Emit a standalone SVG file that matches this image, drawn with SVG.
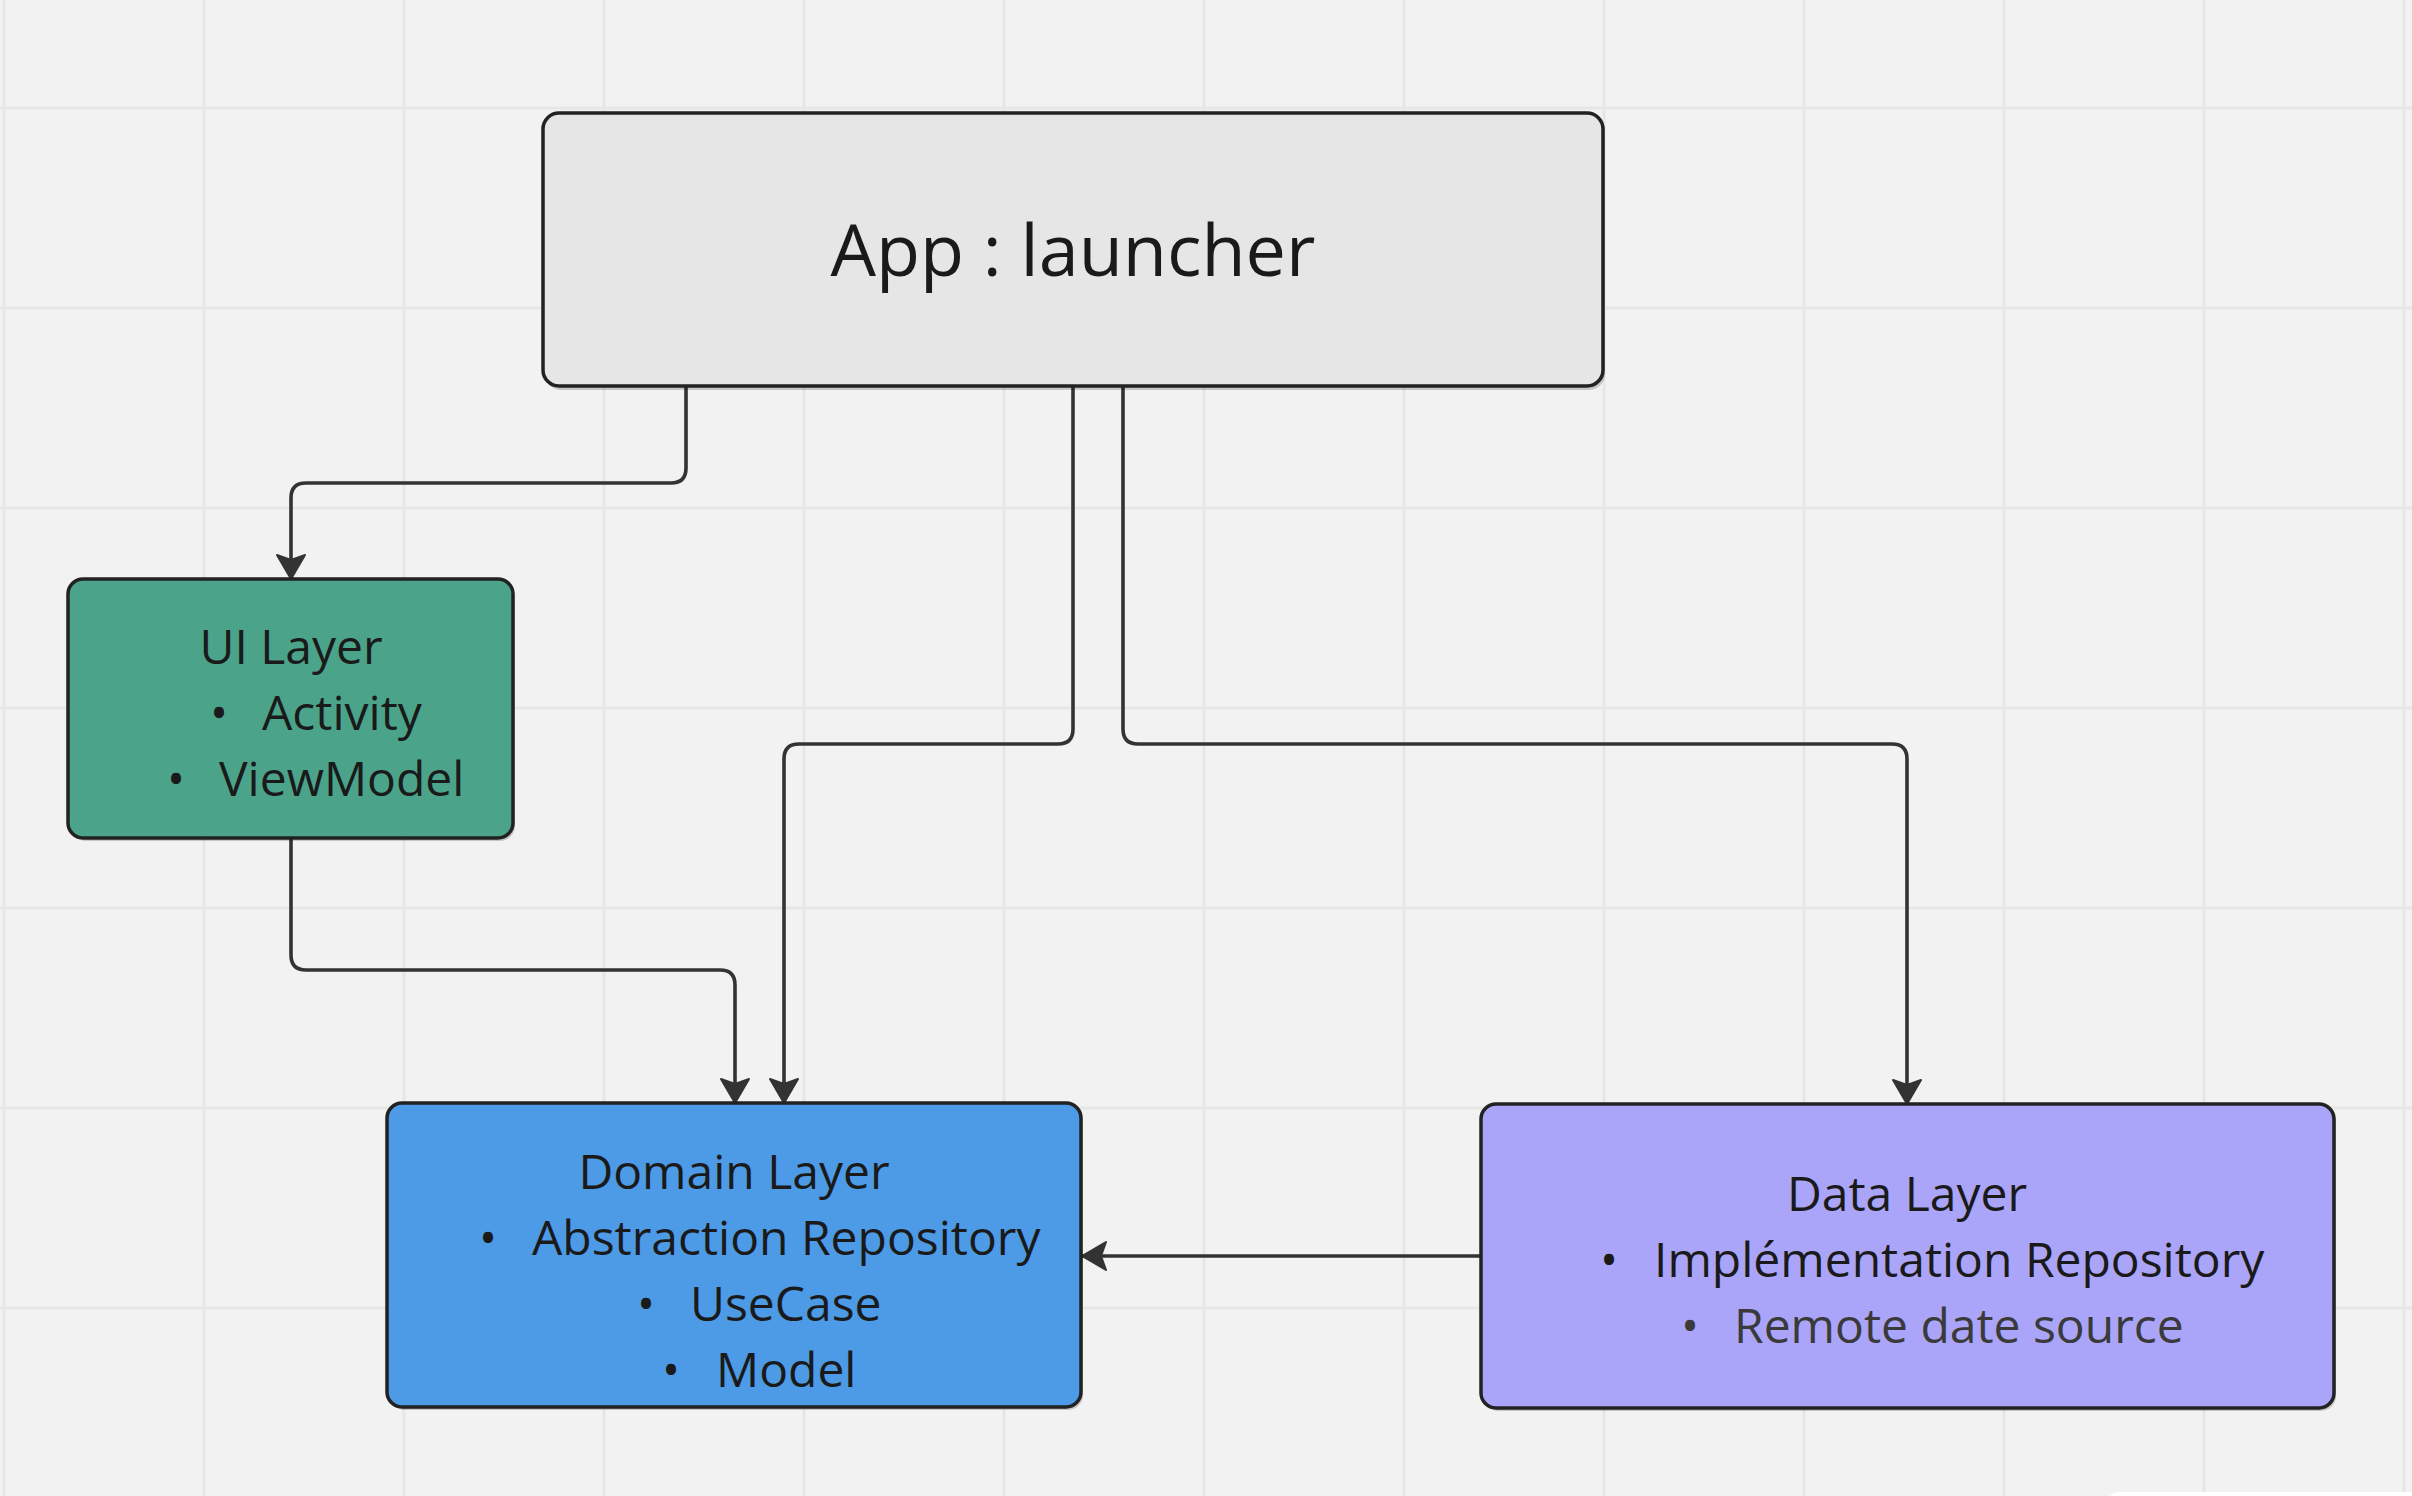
<svg xmlns="http://www.w3.org/2000/svg" width="2412" height="1496" viewBox="0 0 2412 1496">
<defs>
<style>
.grid line{stroke:#e6e6e6;stroke-width:3}
.box{stroke:#222;stroke-width:3.5}
.shadow{fill:#000;opacity:0.18}
.conn path{fill:none;stroke:#333;stroke-width:3.6;stroke-linejoin:round}
text{font-family:"Open Sans","Noto Sans","Liberation Sans",sans-serif;fill:#1a1a1a}
.t{font-size:48px}
.title{text-anchor:middle}
.dot{text-anchor:middle}
</style>
<marker id="arr" markerUnits="userSpaceOnUse" viewBox="-27 -17 30 34" markerWidth="30" markerHeight="34" refX="0" refY="0" orient="auto">
<path d="M0,0 L-24,-14 L-19,0 L-24,14 Z" fill="#333" stroke="#333" stroke-width="2" stroke-linejoin="round"/>
</marker>
</defs>
<rect width="2412" height="1496" fill="#f2f2f2"/>
<g class="grid">
<line x1="4" y1="0" x2="4" y2="1496"/><line x1="204" y1="0" x2="204" y2="1496"/><line x1="404" y1="0" x2="404" y2="1496"/><line x1="604" y1="0" x2="604" y2="1496"/><line x1="804" y1="0" x2="804" y2="1496"/><line x1="1004" y1="0" x2="1004" y2="1496"/><line x1="1204" y1="0" x2="1204" y2="1496"/><line x1="1404" y1="0" x2="1404" y2="1496"/><line x1="1604" y1="0" x2="1604" y2="1496"/><line x1="1804" y1="0" x2="1804" y2="1496"/><line x1="2004" y1="0" x2="2004" y2="1496"/><line x1="2204" y1="0" x2="2204" y2="1496"/><line x1="2404" y1="0" x2="2404" y2="1496"/>
<line x1="0" y1="108" x2="2412" y2="108"/><line x1="0" y1="308" x2="2412" y2="308"/><line x1="0" y1="508" x2="2412" y2="508"/><line x1="0" y1="708" x2="2412" y2="708"/><line x1="0" y1="908" x2="2412" y2="908"/><line x1="0" y1="1108" x2="2412" y2="1108"/><line x1="0" y1="1308" x2="2412" y2="1308"/>
</g>
<rect x="2108" y="1492" width="320" height="20" rx="10" fill="#ffffff"/>

<g class="conn">
<path d="M686,386 V468 Q686,483 671,483 H306 Q291,483 291,498 V579" marker-end="url(#arr)"/>
<path d="M1073,386 V729 Q1073,744 1058,744 H799 Q784,744 784,759 V1103" marker-end="url(#arr)"/>
<path d="M1123,386 V729 Q1123,744 1138,744 H1892 Q1907,744 1907,759 V1104" marker-end="url(#arr)"/>
<path d="M291,838 V955 Q291,970 306,970 H720 Q735,970 735,985 V1103" marker-end="url(#arr)"/>
<path d="M1481,1256 H1082" marker-end="url(#arr)"/>
</g>

<g id="app">
<rect class="shadow" x="545" y="116" width="1060" height="274" rx="16"/>
<rect class="box" x="543" y="113" width="1060" height="273" rx="16" fill="#e6e6e6"/>
<text class="title" x="1073" y="276" font-size="72">App : launcher</text>
</g>

<g id="ui-layer">
<rect class="shadow" x="70" y="582" width="445" height="259" rx="15"/>
<rect class="box" x="68" y="579" width="445" height="259" rx="15" fill="#4ba48a"/>
<text class="t title" x="291" y="664">UI Layer</text>
<text class="t dot" x="219" y="730">•</text><text class="t" x="262" y="730">Activity</text>
<text class="t dot" x="176" y="796">•</text><text class="t" x="219" y="796">ViewModel</text>
</g>

<g id="domain-layer">
<rect class="shadow" x="389" y="1106" width="694" height="304" rx="15"/>
<rect class="box" x="387" y="1103" width="694" height="304" rx="15" fill="#4d9ae6"/>
<text class="t title" x="734" y="1189">Domain Layer</text>
<text class="t dot" x="488" y="1255">•</text><text class="t" x="532" y="1255">Abstraction Repository</text>
<text class="t dot" x="646" y="1321">•</text><text class="t" x="690" y="1321">UseCase</text>
<text class="t dot" x="671" y="1387">•</text><text class="t" x="716" y="1387">Model</text>
</g>

<g id="data-layer">
<rect class="shadow" x="1483" y="1107" width="853" height="304" rx="15"/>
<rect class="box" x="1481" y="1104" width="853" height="304" rx="15" fill="#aaa5f8"/>
<text class="t title" x="1907" y="1211">Data Layer</text>
<text class="t dot" x="1609" y="1277">•</text><text class="t" x="1654" y="1277">Implémentation Repository</text>
<text class="t dot" x="1690" y="1343" style="fill:#3a3a3a">•</text><text class="t" x="1734" y="1343" style="fill:#3a3a3a">Remote date source</text>
</g>
</svg>
